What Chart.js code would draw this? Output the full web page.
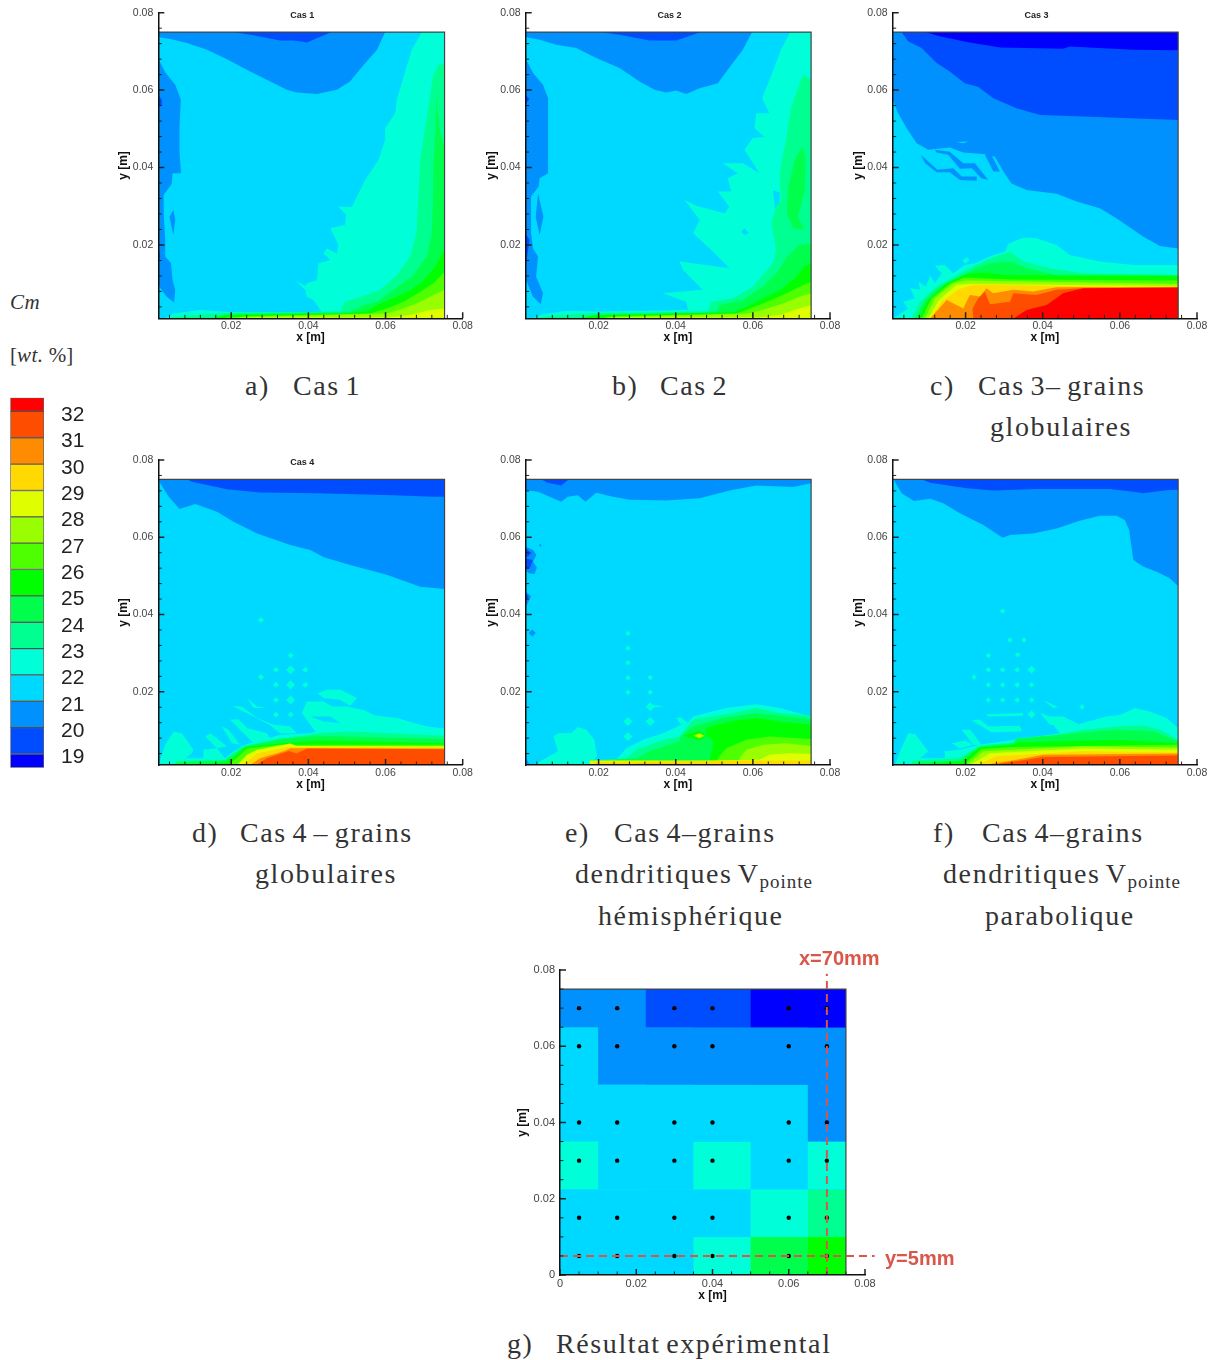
<!DOCTYPE html>
<html lang="fr">
<head>
<meta charset="utf-8">
<title>Cm</title>
<script src="https://cdn.jsdelivr.net/npm/chart.js@4"></script>
<style>
  html, body { margin: 0; background: #fff; }
  #page { position: relative; width: 1211px; height: 1360px; overflow: hidden; }
  canvas { position: absolute; filter: blur(.4px); }
  .cap { position: absolute; font: 28px "Liberation Serif", serif; letter-spacing: 1.6px; word-spacing: -3px; color: #333; line-height: 32px; white-space: nowrap; }
  .cap sub { font-size: 19px; line-height: 0; vertical-align: -5px; letter-spacing: 1px; }
  .unit { position: absolute; font: 21px "Liberation Serif", serif; color: #333; line-height: 26px; white-space: nowrap; }
  .unit i { letter-spacing: .5px; }
  .note { position: absolute; font: bold 20px "Liberation Sans", sans-serif; color: #d9564a; line-height: 24px; white-space: nowrap; }
</style>
</head>
<body>
<div id="page">
  <canvas id="bar" width="110" height="390" style="left:0;top:390px"></canvas>
  <canvas id="cas1" width="360" height="345" style="left:116px;top:0"></canvas>
  <canvas id="cas2" width="360" height="345" style="left:484px;top:0"></canvas>
  <canvas id="cas3" width="360" height="345" style="left:851px;top:0"></canvas>
  <canvas id="cas4" width="360" height="345" style="left:116px;top:447px"></canvas>
  <canvas id="cas5" width="360" height="345" style="left:484px;top:447px"></canvas>
  <canvas id="cas6" width="360" height="345" style="left:851px;top:447px"></canvas>
  <canvas id="exp" width="370" height="346" style="left:515px;top:957px"></canvas>

  <div class="unit" style="left:10px;top:289px"><i>Cm</i></div>
  <div class="unit" style="left:10px;top:342px">[<i>wt.</i> %]</div>

  <div class="cap" style="left:245px;top:370px">a)</div><div class="cap" style="left:293px;top:370px">Cas 1</div>
  <div class="cap" style="left:612px;top:370px">b)</div><div class="cap" style="left:660px;top:370px">Cas 2</div>
  <div class="cap" style="left:930px;top:370px">c)</div><div class="cap" style="left:978px;top:370px">Cas 3– grains</div>
  <div class="cap" style="left:990px;top:411px">globulaires</div>
  <div class="cap" style="left:192px;top:817px">d)</div><div class="cap" style="left:240px;top:817px">Cas 4 – grains</div>
  <div class="cap" style="left:255px;top:858px">globulaires</div>
  <div class="cap" style="left:565px;top:817px">e)</div><div class="cap" style="left:614px;top:817px">Cas 4–grains</div>
  <div class="cap" style="left:575px;top:858px">dendritiques V<sub>pointe</sub></div>
  <div class="cap" style="left:598px;top:900px">hémisphérique</div>
  <div class="cap" style="left:933px;top:817px">f)</div><div class="cap" style="left:982px;top:817px">Cas 4–grains</div>
  <div class="cap" style="left:943px;top:858px">dendritiques V<sub>pointe</sub></div>
  <div class="cap" style="left:985px;top:900px">parabolique</div>
  <div class="cap" style="left:507px;top:1328px">g)</div><div class="cap" style="left:556px;top:1328px">Résultat expérimental</div>

  <div class="note" style="left:799px;top:946px">x=70mm</div>
  <div class="note" style="left:885px;top:1246px">y=5mm</div>
</div>

<script>
// Colour levels, lowest to highest
const levelColors = ["#0000ff", "#004dff", "#0091ff", "#00d9ff", "#00ffd9", "#00ff91", "#00ff4d", "#00ff00",
  "#4dff00", "#99ff00", "#dfff00", "#ffd900", "#ff8c00", "#ff4d00", "#ff0000"];
const barBounds = [18.62, 19.14, 20.14, 21.14, 22.14, 23.14, 24.14, 25.14, 26.14, 27.14, 28.14, 29.14, 30.14, 31.14, 32.14, 32.66];
const barTicks = [19, 20, 21, 22, 23, 24, 25, 26, 27, 28, 29, 30, 31, 32];

// Axis ticks in metres
const majorTicks = [0.02, 0.04, 0.06, 0.08];
const minorTicks = [0.004, 0.008, 0.012, 0.016, 0.024, 0.028, 0.032, 0.036, 0.044, 0.048, 0.052, 0.056, 0.064, 0.068, 0.072, 0.076];
const expMajorTicks = [0, 0.02, 0.04, 0.06, 0.08];
const expMinorTicks = [0.005, 0.01, 0.015, 0.025, 0.03, 0.035, 0.045, 0.05, 0.055, 0.065, 0.07, 0.075];

// Contour regions: [level, [x, y, x, y, ...]] in mm, painted in order
const cas1Regions = [
  [3, [1, 1, 75.3, 1, 75.3, 75, 1, 75]],
  [2, [1, 73.7, 4.2, 73.2, 8.5, 72.2, 13.7, 70.4, 18.9, 68, 24.9, 64.8, 30.1, 62.2, 34.4, 60.1, 37, 59.4, 42.2, 59, 47.4, 60.1, 50.8, 62.2, 54.3, 66.5, 57.8, 70.4, 59.9, 75, 1, 75]],
  [2, [1, 68.3, 2.9, 64.6, 5.5, 61.4, 6.95, 57.5, 6.6, 50.6, 6.6, 44.1, 7, 38.5, 4.8, 38.5, 4.6, 35.8, 2.5, 32.9, 2.5, 28.2, 2.9, 21.3, 2.9, 17, 4.4, 15.3, 4.8, 10.9, 5.5, 8.4, 5.2, 5.1, 3.3, 6.6, 1, 9.7]],
  [2, [5, 29, 5.5, 26.5, 5, 22.6, 4, 27.3]],
  [1, [20.2, 75, 25, 74.3, 32.7, 72.8, 36.2, 72.8, 39.6, 72.3, 42.2, 73.4, 46.1, 75]],
  [1, [1, 58.8, 2, 57.5, 2, 56, 1, 55.8]],
  [1, [1, 20.4, 1.6, 17, 1, 15.3]],
  [4, [69.4, 75, 66.8, 70.4, 65.1, 64.8, 62.9, 57.5, 62.5, 54, 59.9, 50.2, 59.9, 47.2, 58.2, 42, 54.7, 36.8, 52.6, 32.5, 51.3, 29.9, 47.8, 29.9, 49.8, 27.8, 49.5, 25.2, 45.7, 24.3, 47.8, 20, 47.4, 17.8, 44.8, 19.1, 43.9, 17.8, 45.7, 16.1, 42.6, 15.3, 42.2, 10.9, 39.6, 10.1, 39.2, 9.4, 36.6, 10.9, 39.2, 8.4, 39.6, 6.6, 41.3, 5.8, 43.5, 2.6, 19.7, 2.7, 12, 3.2, 5, 2.3, 2.5, 1, 75.3, 1, 75.3, 75]],
  [5, [75.3, 66.8, 73.7, 66.5, 72.3, 63.5, 71.4, 57.5, 70.3, 50.6, 69, 42, 68.6, 34.2, 68, 23, 66.4, 17, 62.9, 12.2, 58.6, 8.4, 54.3, 6.8, 49.5, 5.3, 48.3, 2.8, 19.7, 2.5, 5.9, 1.5, 4.2, 1, 75.3, 1]],
  [6, [73.1, 58.4, 74.2, 48.9, 75.3, 45.4, 75.3, 1, 14.6, 1, 18.9, 2, 50.8, 2.6, 54.3, 4.5, 57.8, 5.3, 62.1, 8.4, 66.8, 11.8, 70.7, 17, 72, 23, 72.3, 31.6, 72.4, 40.3, 72.9, 48.9]],
  [7, [75.3, 19.1, 72.9, 14.4, 69.9, 10.9, 66.4, 8.2, 62.9, 6.6, 57.8, 4.5, 55.2, 2.9, 49.1, 2.3, 18.9, 1.9, 14.6, 1, 75.3, 1]],
  [8, [75.3, 13.1, 72.4, 10.1, 69, 7.9, 64.7, 5.3, 60.3, 3.6, 56, 2.3, 23.2, 1.6, 19.7, 1, 75.3, 1]],
  [9, [75.3, 8.4, 72.4, 7.1, 69, 5.3, 64.7, 3.6, 60.3, 2.3, 23.2, 1.3, 22, 1, 75.3, 1]],
  [10, [75.3, 3.6, 71.6, 3.2, 66.4, 1.9, 61.2, 1.3, 19, 1.2, 19, 1, 75.3, 1]]
];

const cas2Regions = [
  [3, [1, 1, 75.1, 1, 75.1, 75, 1, 75]],
  [2, [1, 73.7, 4.7, 73, 9, 71.7, 14.2, 70.9, 19.4, 68.3, 25.4, 65.7, 30.6, 62.2, 34.5, 60.1, 37.5, 59.4, 40.1, 59.9, 42.7, 59, 46.2, 60.5, 50.9, 61.8, 54.8, 67, 57.4, 70.4, 59.8, 75, 1, 75]],
  [1, [20.3, 75, 25.4, 74.3, 33.2, 72.8, 40.1, 72.8, 46.6, 75]],
  [2, [1, 68.3, 3, 64.4, 5.6, 61.4, 6.9, 57.9, 6.9, 38.5, 4.7, 37.2, 4.5, 35.1, 2.5, 32.5, 2.5, 23, 3, 19.1, 4.3, 17, 3.8, 11.8, 5.6, 7.5, 5, 4.7, 3, 6.6, 1.2, 10.9, 1, 10.9]],
  [2, [4.3, 33.4, 5.7, 27.3, 4.7, 22.6, 3.7, 27.3]],
  [1, [1, 58.8, 2.1, 57.7, 1.5, 57, 1, 55.8]],
  [1, [1, 23, 2.1, 21.3, 1.2, 15.3, 1, 15.3]],
  [4, [69.7, 75, 67.3, 70.4, 65.2, 64.8, 62.4, 57.9, 64.3, 54, 60.9, 54, 60.4, 50.2, 63, 47.9, 60, 47.6, 57.8, 44.6, 61.7, 38.5, 57.4, 41.1, 52.2, 41.1, 56.1, 38.5, 53.5, 37.2, 54.4, 33.8, 50.9, 33.8, 53.9, 29.9, 52.7, 28.2, 45.3, 30.1, 42.3, 31.6, 46.2, 26.5, 44.5, 23, 48.8, 19.1, 54, 14, 41, 15.7, 41.9, 13.5, 47, 8.4, 36.7, 7.5, 42.7, 5.3, 43.2, 3.2, 20.3, 2.8, 11.6, 3, 5.3, 2, 2.5, 1, 75.1, 1, 75.1, 75]],
  [3, [65.2, 34.2, 67, 33.5, 66.7, 27, 65.8, 29]],
  [3, [57, 23.4, 57.8, 24.3, 59, 23, 57.8, 22.6]],
  [5, [73, 64, 75.1, 62.7, 75.1, 1, 3.8, 1, 6.4, 1.6, 20.3, 2.5, 48.3, 2.8, 49.2, 5.3, 54.8, 6.2, 60, 9.2, 65.2, 15.3, 66, 18.7, 64.8, 25.6, 66, 29.9, 67.3, 31.6, 66.9, 38.5, 68.6, 47.4, 69.9, 55.5]],
  [6, [72.7, 45.4, 73.7, 42.8, 73.5, 34.2, 71.7, 27.3, 73.4, 23.9, 70.5, 24.3, 68.8, 28.2, 69.2, 35.1, 70.9, 42]],
  [6, [71.7, 20, 75.1, 20.4, 75.1, 1, 15.1, 1, 19.4, 1.9, 50.5, 2.5, 51.4, 4.5, 57.4, 5.8, 62.6, 9.2, 66.5, 13.1, 68.6, 16.6, 70.8, 18.7]],
  [7, [75.1, 15.3, 73.4, 14.4, 71.3, 11.8, 67.3, 8.4, 63.5, 6.6, 57.4, 3.6, 54.8, 2.6, 19.4, 1.9, 15.1, 1, 75.1, 1]],
  [8, [75.1, 10.5, 72.1, 9.2, 67.8, 7.1, 62.6, 4.9, 58.3, 3.2, 55.7, 2.3, 23.7, 1.6, 20.3, 1, 75.1, 1]],
  [9, [75.1, 7.5, 72.1, 6.6, 67.8, 4.9, 62.6, 3.2, 58.3, 2.2, 23.7, 1.3, 22, 1, 75.1, 1]],
  [10, [75.1, 4.5, 72.1, 3.6, 67, 1.9, 61.7, 1.3, 22, 1.2, 22, 1, 75.1, 1]]
];

const cas3Regions = [
  [3, [1, 1, 75.1, 1, 75.1, 75, 1, 75]],
  [2, [1, 57.9, 2.5, 54, 4.7, 50.2, 7.3, 46.3, 10.3, 44.6, 15.9, 45.2, 19.4, 43.9, 24.6, 43.5, 27.6, 42.8, 29.8, 39, 31.9, 35.9, 35.8, 34.2, 43.6, 33.2, 48.8, 31.2, 54.8, 29.5, 59.1, 26.9, 66, 22.2, 70.4, 19.7, 75.1, 19.1, 75.1, 75, 1, 75]],
  [3, [17.7, 46.6, 20.7, 46.7, 19.4, 46.3]],
  [2, [8.4, 43.3, 12.7, 39.4, 16.8, 39.8, 19, 37.7, 22.9, 37.7, 22.9, 36.6, 18.5, 36.8, 15.9, 38.8, 12.5, 38.8, 9.5, 41.1]],
  [2, [15.9, 44.1, 19.4, 41.1, 22.4, 41.1, 25.9, 36.8, 24.1, 37.2, 21.6, 39.8, 18.5, 39.7, 15.5, 43.3, 12.5, 43.9, 12, 44.6]],
  [2, [25, 43.3, 26.7, 43.3, 28.9, 39, 27.2, 39]],
  [1, [3.4, 75, 5.1, 72.6, 8.6, 70.9, 12.5, 67, 15.9, 64.8, 19.8, 61.8, 23.3, 60.8, 27.2, 57.9, 33.2, 55.3, 39.3, 53.6, 50.5, 53.2, 75.1, 52.3, 75.1, 75]],
  [0, [9.5, 75, 13.3, 73.9, 20.3, 72.4, 29, 71, 45.3, 70.7, 47, 71.3, 63.5, 70.4, 75.1, 70.3, 75.1, 75]],
  [4, [1.2, 1, 5.1, 3.6, 3.8, 5.3, 6.9, 6.2, 5.6, 8.8, 8.2, 8.4, 7.8, 10.5, 9.7, 9.2, 10.8, 12.2, 12, 10.1, 13.8, 12.7, 12, 14.6, 14.6, 14.8, 16.8, 12.7, 19.8, 14.8, 22.4, 15.3, 27.2, 17.4, 30.2, 18.3, 31.1, 20.3, 35, 21.9, 38.4, 21.7, 43.6, 20, 47, 17.4, 54.8, 15.7, 63.5, 14.8, 75.1, 14.8, 75.1, 1]],
  [4, [19.1, 16, 20.3, 16.9, 21, 16.1, 20, 15.1]],
  [5, [6, 1, 8.2, 5.3, 12.5, 9.2, 17.7, 12.2, 21.9, 14.4, 25.4, 16.1, 31.5, 18.3, 35, 15.7, 41.9, 14, 50.5, 12.7, 75.1, 12.2, 75.1, 1]],
  [6, [6.9, 1, 9.5, 5.8, 13.3, 9.2, 17.7, 11.4, 21.9, 13.5, 26.3, 15.3, 31.5, 15.7, 35.8, 14, 43.6, 12.2, 75.1, 11.8, 75.1, 1]],
  [7, [7.8, 1, 10.3, 5.8, 15.1, 10.1, 20.3, 12.5, 24.6, 12.8, 31.5, 12.2, 75.1, 12.1, 75.1, 1]],
  [8, [8.6, 1, 11.2, 6.2, 16, 10.1, 19.8, 11.6, 31.5, 11.1, 75.1, 10.8, 75.1, 1]],
  [9, [9.5, 1, 12, 6.2, 16.8, 10.1, 20.3, 10.8, 75.1, 9.9, 75.1, 1]],
  [10, [10.3, 1, 13.1, 5.8, 17.7, 9.7, 21.1, 9.9, 75.1, 9.4, 75.1, 1]],
  [11, [10.8, 1, 13.8, 5.3, 18.1, 8.5, 22, 9.7, 75.1, 9, 75.1, 1]],
  [12, [10.8, 1, 15.1, 5.8, 19.4, 3.6, 21.1, 7.1, 23.7, 6.7, 25.4, 8.8, 27.2, 7.5, 32.4, 8.4, 37.5, 8, 43.6, 9.1, 75.1, 9.2, 75.1, 1]],
  [13, [22, 1, 21.8, 3.6, 23.3, 6.2, 25, 7.9, 26.3, 4.7, 31.5, 5.3, 32.4, 7.5, 38.4, 7.1, 43.6, 8.4, 50.5, 8.8, 75.1, 8.9, 75.1, 1]],
  [14, [32.4, 1, 35.8, 3.2, 41, 4.5, 45.3, 7.5, 50.5, 8.8, 75.1, 9, 75.1, 1]]
];

const cas4Regions = [
  [3, [1, 1, 75.3, 1, 75.3, 75, 1, 75]],
  [2, [1.2, 75, 1.6, 74, 3.8, 70.5, 6.6, 67.3, 10.7, 68.6, 16.3, 66.6, 20.6, 64, 26.7, 61, 35.3, 58, 40.5, 56.7, 44, 54.8, 50.8, 52.8, 60.3, 50.3, 69, 47.2, 75.3, 46.6, 75.3, 75]],
  [1, [8.5, 75, 9.8, 74.4, 18.9, 72.4, 27.5, 71.6, 42.2, 71.4, 62.1, 70.9, 72.4, 70.5, 75.3, 70.5, 75.3, 75]],
  [4, [1.2, 1, 2.9, 6.3, 5.1, 9.7, 7.2, 9.3, 10.2, 5, 9.8, 4, 8.1, 2.8, 12.8, 2.8, 12.8, 5, 16.3, 5.4, 18.4, 2.8, 20.6, 4.6, 23.6, 6.3, 32.7, 8.9, 40.5, 9.3, 50.8, 12.3, 55.2, 14.1, 62.9, 13.2, 70.7, 11, 75.3, 10.5, 75.3, 1]],
  [4, [42.4, 19.6, 44.8, 20.5, 48.3, 20.5, 52.6, 18.4, 50.8, 16.4, 48.3, 17.9, 44, 18.4]],
  [4, [39.6, 17.5, 44, 17.5, 46.1, 16.2, 50, 16.2, 54.3, 15.3, 57.8, 13.6, 49.1, 9.3, 42.2, 9.3, 40.5, 11.5, 38.3, 14.5]],
  [3, [40.5, 13.6, 45.7, 13.6, 48.3, 11.9, 44, 12.3]],
  [4, [19.7, 12.8, 21.9, 12.9, 24.1, 10.6, 29.2, 9.3, 30.1, 8, 25.8, 6.7, 23.2, 9.3]],
  [4, [24.1, 18.4, 26.7, 16.2, 29.2, 15.8, 25.8, 15.8]],
  [4, [20.2, 16.4, 22.8, 16.2, 26.7, 13.2, 31, 11.5, 35.3, 11, 37, 9.3, 32.7, 9.3, 29.9, 11.5, 25, 14]],
  [4, [13.3, 8.4, 14.6, 9.3, 18.9, 5.9, 16.3, 5.4]],
  [4, [17.6, 11, 19.3, 10.2, 22.3, 6.3, 20.2, 6.7]],
  [5, [5.9, 2.2, 18.4, 2.4, 20.6, 4.3, 23.6, 6, 32.3, 7.8, 42.6, 9.3, 50.8, 9.7, 75.3, 8.6, 75.3, 1, 5.1, 1]],
  [6, [5.9, 1.7, 18.4, 2.2, 21, 4, 23.6, 5.9, 32.7, 7.8, 42.2, 8.6, 75.3, 7.8, 75.3, 1, 5.4, 1]],
  [7, [6.4, 1, 18.9, 1.7, 21.5, 3.7, 23.6, 5.6, 32.7, 6.7, 42.6, 7.4, 75.3, 6.7, 75.3, 1]],
  [8, [19.3, 1, 21.9, 3.3, 24.1, 5.3, 32.7, 6.3, 75.3, 6.3, 75.3, 1]],
  [10, [21.5, 1, 24.1, 3.7, 26.7, 5, 35.3, 6.6, 37, 6, 75.3, 5.9, 75.3, 1]],
  [11, [22.8, 1, 26.7, 4, 34.4, 5.7, 75.3, 5.6, 75.3, 1]],
  [12, [24.9, 1, 27.5, 2.8, 33.6, 4.6, 35.3, 5.4, 39.6, 5.4, 75.3, 5.3, 75.3, 1]],
  [13, [26.5, 1, 29.2, 2.8, 34.9, 4.7, 37, 4, 39.6, 5.3, 75.3, 5.1, 75.3, 1]]
];
const cas4BigSpots = [35.4, 25.7, 35.4, 21.8, 35.4, 17.9];
const cas4SmallSpots = [35.4, 29.4, 31.6, 25.7, 31.6, 21.8, 31.6, 17.9, 39.2, 25.7, 39.2, 21.8, 27.7, 23.8, 27.7, 38.6, 31.6, 14.1, 35.4, 14.1];

const cas5Regions = [
  [3, [1, 1, 75.1, 1, 75.1, 75, 1, 75]],
  [2, [1, 72.2, 4.3, 71.8, 10.3, 69.2, 12, 70.5, 14.6, 70.9, 16.6, 69.2, 19.4, 71.5, 23.7, 70.5, 28, 69.7, 37.5, 69.5, 46.2, 70.1, 54, 72.1, 60.9, 73.4, 70.4, 73, 75.1, 74, 75.1, 75, 1, 75]],
  [1, [5.1, 75, 6.8, 74.1, 10.3, 73.4, 12.3, 75]],
  [2, [1, 57.6, 3, 56.7, 3.9, 55.4, 3, 53.7, 4, 52.2, 3.4, 50.5, 1.9, 50.7, 1, 51.5]],
  [1, [1, 54.6, 3, 54.1, 2.1, 52, 1, 52]],
  [1, [1, 57.2, 2.6, 55.9, 1.7, 55, 1, 54.9]],
  [2, [1, 46, 2.5, 44.7, 1.2, 42, 1, 42]],
  [1, [1, 45.5, 1.9, 44.7, 1, 43.4]],
  [2, [4.5, 58, 5.1, 58.3, 5.1, 57.4]],
  [2, [1, 1, 1, 3.3, 2.1, 1]],
  [4, [3, 1, 9.5, 4.6, 8.3, 8.4, 9.5, 9.3, 12.9, 9.3, 14.6, 10.9, 16.8, 10.2, 18.9, 7.6, 19.6, 3.3, 18.9, 2.4, 24.6, 2.4, 27.2, 5.4, 31.5, 7.6, 36.7, 9.3, 41.4, 11.5, 40.1, 13.2, 41.4, 13.4, 43.2, 11.9, 44.5, 13.6, 53.1, 15.8, 60.9, 16.8, 66.9, 15.8, 75.1, 13.6, 75.1, 1]],
  [4, [33.4, 16.6, 37.1, 16.3, 33.4, 15.8]],
  [5, [27.2, 2.8, 29.8, 5, 36.7, 7.6, 41, 8.4, 44.5, 12.8, 52.2, 14, 60.9, 15.8, 66.9, 14.5, 75.1, 13.9, 75.1, 1, 17.7, 1, 17.7, 2.2]],
  [6, [29.8, 2.8, 33.2, 4.6, 41, 7.2, 41.4, 8.6, 44.5, 11, 52.2, 13.2, 60.9, 14.5, 75.1, 12.8, 75.1, 1, 17.7, 1, 18.1, 2]],
  [7, [48.8, 2.4, 49.6, 5.4, 49.6, 7.6, 47.9, 8.4, 47.9, 10.6, 54, 12.3, 60.9, 13.2, 66.9, 12.3, 75.1, 11.5, 75.1, 1, 48.8, 1]],
  [7, [41.9, 8.6, 46.2, 10, 47.9, 8.6, 46.2, 7.4]],
  [9, [44.5, 8.6, 46.2, 9.3, 47.5, 8.6, 46.2, 8]],
  [10, [45.2, 8.6, 46.2, 9, 47, 8.6, 46.2, 8.2]],
  [8, [50.9, 2.8, 53.1, 5.4, 58.3, 7.6, 64.3, 8.4, 75.1, 7.8, 75.1, 1, 50.9, 1]],
  [9, [56.5, 2.8, 58.3, 5, 62.6, 6.3, 68.6, 6.7, 75.1, 6, 75.1, 1, 56.5, 1]],
  [10, [61.7, 2.4, 64.3, 3.7, 69.5, 4.1, 75.1, 3.9, 75.1, 1, 61.7, 1]],
  [10, [17.7, 1, 17.7, 2.2, 49.6, 2.2, 61.7, 2.4, 61.7, 1]],
  [11, [18.5, 1, 19, 1.8, 58.3, 2.2, 64.3, 2.2, 75.1, 2.2, 75.1, 1]],
  [12, [29.8, 1, 29.8, 1.4, 42.7, 1.3, 43, 1]]
];
const cas5BigSpots = [33.4, 16.1, 33.4, 12.3, 27.6, 12.3, 27.6, 8.4];
const cas5SmallSpots = [27.6, 35.1, 27.6, 31.3, 27.6, 27.5, 27.6, 23.6, 27.6, 19.9, 33.4, 23.7, 33.4, 19.9];
const cas5BlueSpots = [2.8, 35.2];

const cas6Regions = [
  [3, [1, 1, 75.1, 1, 75.1, 75, 1, 75]],
  [2, [1.5, 74.6, 3.4, 71.4, 6.6, 69.4, 10.8, 70, 14.2, 68.8, 18.5, 66.2, 24.6, 63.2, 29.6, 59.9, 31.5, 60.6, 37.5, 61, 43.6, 62.3, 49.6, 64.3, 54.8, 65.6, 59.1, 65.6, 61.3, 64.5, 62.4, 61.9, 63.5, 54.1, 66, 52.4, 69.5, 51.1, 72.9, 49.4, 75.1, 47.4, 75.1, 75, 1.5, 75]],
  [1, [8.6, 75, 10.8, 74.1, 20.3, 72.7, 27.2, 72.1, 38.4, 72.5, 57.4, 72.5, 63.5, 71.8, 66, 71.4, 72, 72.2, 75.1, 72.3, 75.1, 75]],
  [4, [1.7, 1, 3, 4.6, 5.1, 9.3, 6.9, 9.1, 10.3, 4.6, 8.2, 2.8, 14.6, 2.8, 14.6, 4.6, 18.5, 5, 23.7, 6.3, 32.4, 7.6, 44.5, 9.3, 42.7, 11.5, 48.8, 11.5, 56.5, 13.6, 60, 14, 63.9, 15.8, 67.8, 14.9, 72.1, 13.2, 75.1, 10.6, 75.1, 1]],
  [4, [25.3, 14.2, 34.9, 14.5, 34.9, 13.8, 25.9, 13.6]],
  [4, [40.1, 17.9, 44, 16, 42.7, 15.8]],
  [4, [41.9, 13.6, 45.3, 13.6, 50.5, 11, 41.9, 11.5, 39.3, 14.5]],
  [4, [21.6, 12.6, 23.7, 12.8, 25.9, 11, 34.1, 11.2, 34.5, 9.7, 26.7, 9.5]],
  [4, [19, 10.2, 21.2, 10.2, 24.1, 6.3, 22, 6.3]],
  [4, [16.4, 6.7, 19.8, 7.4, 22, 6.3, 18.5, 5.4]],
  [5, [6.4, 2.2, 18.5, 2.8, 20.3, 4.1, 23.7, 6, 32.4, 6.9, 33.2, 8, 43.6, 8.9, 50.5, 10.2, 59.1, 11, 66, 11.3, 70.4, 10.2, 75.1, 7.6, 75.1, 1, 5.9, 1]],
  [6, [6.4, 1.6, 18.5, 2.2, 23.8, 5.9, 32.4, 6.6, 33.2, 7.8, 44.5, 8.9, 59.1, 10.2, 68.8, 9.7, 75.1, 7.2, 75.1, 1, 6.2, 1]],
  [7, [6.4, 1, 19, 2, 23.7, 5.6, 32.4, 6.2, 33.2, 6.9, 43.6, 7.2, 59.1, 7.6, 75.1, 6.7, 75.1, 1]],
  [8, [19.4, 1, 24.1, 5.2, 32.4, 5.7, 75.1, 6.3, 75.1, 1]],
  [9, [20.3, 1, 24.6, 4.6, 50.5, 5.9, 75.1, 5.6, 75.1, 1]],
  [10, [21.1, 1, 26.3, 4.1, 50.5, 5.3, 75.1, 5, 75.1, 1]],
  [11, [22.9, 1, 28, 3.3, 50.5, 4.6, 75.1, 4.3, 75.1, 1]],
  [12, [24.6, 1, 33.2, 2.4, 40.1, 3.7, 75.1, 4, 75.1, 1]],
  [13, [26.3, 1, 33.2, 2, 40.1, 3.1, 75.1, 3.5, 75.1, 1]]
];
const cas6BigSpots = [37.1, 25.7, 37.1, 14.2];
const cas6SmallSpots = [25.9, 25.7, 29.6, 25.7, 33.4, 25.7, 25.9, 21.8, 29.6, 21.8, 33.4, 21.8, 37.1, 21.8, 25.9, 17.9, 29.6, 17.9, 33.4, 17.9, 37.1, 17.9, 22.2, 23.8, 29.6, 40.9, 31.5, 33.4, 35.1, 33.4, 33.5, 29.6, 25.9, 29.4, 50.2, 16.1];

// Experimental grid in mm, rows from bottom to top
const expEdgesX = [0, 10, 22.5, 35, 50, 65, 75];
const expEdgesY = [0, 10, 22.5, 35, 50, 65, 75];
const expLevels = [
  [3, 3, 3, 4, 6, 7],
  [3, 3, 3, 3, 4, 5],
  [4, 3, 3, 4, 3, 4],
  [3, 3, 3, 3, 3, 2],
  [3, 2, 2, 2, 2, 2],
  [2, 2, 1, 1, 0, 0]
];
const expProbeX = [5, 15, 30, 40, 60, 70];
const expProbeY = [5, 15, 30, 40, 60, 70];
const expSectionX = [70, 70];
const expSectionXY = [0, 79];
const expSectionYX = [0, 82.5];
const expSectionY = [5, 5];

function toPoints(flat) {
  const pts = [];
  for (let i = 0; i < flat.length; i += 2) pts.push({ x: flat[i] / 1000, y: flat[i + 1] / 1000 });
  return pts;
}

function regionDatasets(regions) {
  return regions.map(([level, flat]) => ({
    data: toPoints(flat), showLine: true, fill: "shape", pointRadius: 0, borderWidth: 0,
    backgroundColor: levelColors[level]
  }));
}

function spotDataset(flat, radius, level) {
  return { data: toPoints(flat), showLine: false, pointStyle: "rectRot", pointRadius: radius,
    pointBorderWidth: 0, pointBackgroundColor: levelColors[level] };
}

// Inward ticks and the small heading
const panelMarks = {
  id: "panelMarks",
  afterDatasetsDraw(chart, args, opts) {
    const { ctx, scales: { x, y } } = chart;
    ctx.save();
    ctx.strokeStyle = "#222";
    const tick = (list, len, w) => {
      ctx.lineWidth = w;
      ctx.beginPath();
      list.forEach(v => {
        const px = x.getPixelForValue(v), py = y.getPixelForValue(v);
        if (v >= x.min) { ctx.moveTo(px, y.bottom); ctx.lineTo(px, y.bottom - len); }
        if (v >= y.min) { ctx.moveTo(x.left, py); ctx.lineTo(x.left + len, py); }
      });
      ctx.stroke();
    };
    tick(opts.major, 6, 1.5);
    tick(opts.minor, 3.5, 1);
    if (opts.heading) {
      ctx.font = "bold 9px 'Liberation Sans'";
      ctx.fillStyle = "#222";
      ctx.textAlign = "center";
      ctx.textBaseline = "middle";
      ctx.fillText(opts.heading, x.getPixelForValue(0.0384), y.getPixelForValue(0.0794));
    }
    ctx.restore();
  }
};

function axis(title, min, ticks, size, pad, fit) {
  return {
    type: "linear", min: min, max: 0.08,
    afterBuildTicks: s => { s.ticks = ticks.map(v => ({ value: v })); },
    afterFit: fit,
    grid: { display: false, drawTicks: false },
    border: { color: "#111", width: 1.5, z: 1 },
    title: { display: true, text: title, color: "#111", padding: 0, font: { family: "Liberation Sans", size: 12, weight: "bold" } },
    ticks: { color: "#444", padding: pad, autoSkip: false, maxRotation: 0,
      font: { family: "Liberation Sans", size: size },
      callback: v => v === 0 ? "0" : v.toFixed(2) }
  };
}

function drawPanel(id, datasets, heading, box, opts) {
  const frameRight = opts.right / 1000, frameLeft = opts.xMin, frameBottom = opts.yMin;
  datasets.push({ data: [{ x: frameLeft, y: 0.075 }, { x: frameRight, y: 0.075 }, { x: frameRight, y: frameBottom }],
    showLine: true, pointRadius: 0, borderWidth: 1.2, borderColor: "#444", fill: false });
  if (opts.extra) opts.extra.forEach(d => datasets.push(d));
  new Chart(document.getElementById(id), {
    type: "scatter",
    data: { datasets: datasets.reverse() },
    options: {
      responsive: false, animation: false,
      layout: { padding: { top: box.top, right: box.right } },
      plugins: { legend: { display: false }, tooltip: { enabled: false },
        panelMarks: { major: opts.major, minor: opts.minor, heading: heading } },
      scales: {
        x: axis("x [m]", opts.xMin, opts.major, opts.size, 2, s => { s.height = box.bottom; }),
        y: axis("y [m]", opts.yMin, opts.major, opts.size, 5, s => { s.width = box.left; })
      }
    },
    plugins: [panelMarks]
  });
}

const contourAxes = (right, extra) => ({ right, extra, xMin: 0.0011, yMin: 0.00105, major: majorTicks, minor: minorTicks, size: 10.5 });

drawPanel("cas1", regionDatasets(cas1Regions), "Cas 1", { left: 42.3, right: 13.3, top: 12.7, bottom: 26.7 }, contourAxes(75.3));
drawPanel("cas2", regionDatasets(cas2Regions), "Cas 2", { left: 41.7, right: 14, top: 12.7, bottom: 26.7 }, contourAxes(75.1));
drawPanel("cas3", regionDatasets(cas3Regions), "Cas 3", { left: 41.7, right: 14, top: 12.7, bottom: 26.7 }, contourAxes(75.1));
drawPanel("cas4", regionDatasets(cas4Regions), "Cas 4", { left: 42.3, right: 13.3, top: 13, bottom: 27 },
  contourAxes(75.3, [spotDataset(cas4BigSpots, 4.5, 4), spotDataset(cas4SmallSpots, 3, 4)]));
drawPanel("cas5", regionDatasets(cas5Regions), "", { left: 41.7, right: 14, top: 13, bottom: 27 },
  contourAxes(75.1, [spotDataset(cas5BigSpots, 4.5, 4), spotDataset(cas5SmallSpots, 2.8, 4), spotDataset(cas5BlueSpots, 3.5, 2)]));
drawPanel("cas6", regionDatasets(cas6Regions), "", { left: 41.7, right: 14, top: 13, bottom: 27 },
  contourAxes(75.1, [spotDataset(cas6BigSpots, 4, 4), spotDataset(cas6SmallSpots, 2.8, 4)]));

// Experimental panel: each cell runs to the far corner and the next one paints over it, so no seams
const expCells = [];
expLevels.forEach((row, r) => row.forEach((level, c) => {
  const x0 = expEdgesX[c], x1 = expEdgesX[6], y0 = expEdgesY[r], y1 = expEdgesY[6];
  expCells.push([level, [x0, y0, x1, y0, x1, y1, x0, y1]]);
}));
const expProbes = [];
expProbeY.forEach(py => expProbeX.forEach(px => expProbes.push(px, py)));
const sectionLine = (xs, ys) => ({
  data: xs.map((v, i) => ({ x: v / 1000, y: ys[i] / 1000 })), showLine: true, pointRadius: 0, clip: false,
  borderColor: "#d9564a", borderWidth: 2, borderDash: [8, 5], fill: false
});
drawPanel("exp", regionDatasets(expCells), "", { left: 45, right: 20, top: 13, bottom: 28 }, {
  right: 75, xMin: 0, yMin: 0, major: expMajorTicks, minor: expMinorTicks, size: 11,
  extra: [
    { data: toPoints(expProbes), showLine: false, pointRadius: 2.2, pointBorderWidth: 0, pointBackgroundColor: "#000" },
    sectionLine(expSectionX, expSectionXY),
    sectionLine(expSectionYX, expSectionY)
  ]
});

// Colour bar: one floating bar per level
new Chart(document.getElementById("bar"), {
  type: "bar",
  data: {
    labels: ["Cm"],
    datasets: levelColors.map((color, i) => ({
      data: [[barBounds[i], barBounds[i + 1]]],
      backgroundColor: color, borderColor: "rgba(50,50,50,.75)", borderWidth: 1, borderSkipped: false,
      barPercentage: 1, categoryPercentage: 1, grouped: false
    }))
  },
  options: {
    responsive: false, animation: false,
    layout: { padding: { left: 10.3, top: 7.7, bottom: 12.3 } },
    plugins: { legend: { display: false }, tooltip: { enabled: false } },
    scales: {
      x: { display: false, grid: { display: false } },
      y: {
        position: "right", min: 18.62, max: 32.66,
        afterBuildTicks: s => { s.ticks = barTicks.map(v => ({ value: v })); },
        afterFit: s => { s.width = 66; s.paddingTop = 0; s.paddingBottom = 0; },
        grid: { display: false, drawTicks: false }, border: { display: false },
        ticks: { color: "#222", padding: 17, autoSkip: false, font: { family: "Liberation Sans", size: 21 } }
      }
    }
  }
});
</script>
</body>
</html>
